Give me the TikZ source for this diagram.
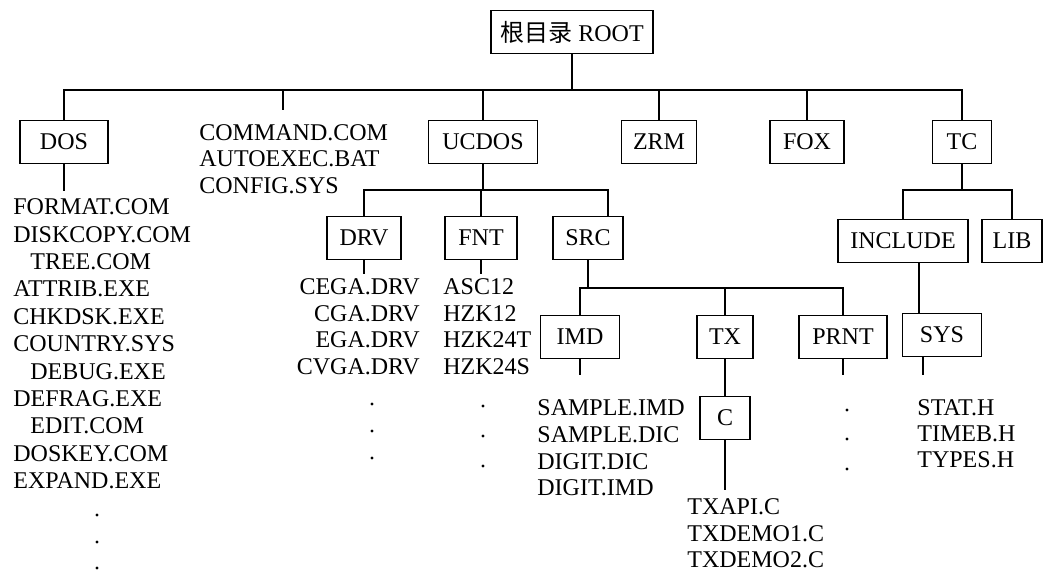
\documentclass[tikz,border=0pt]{standalone}
\usepackage{fontspec}
\setmainfont{Liberation Serif}
\newfontfamily\cjk{Noto Sans CJK SC}
\usetikzlibrary{positioning, calc}
\newcommand{\fsz}{\fontsize{12}{13.3}\selectfont}

\begin{document}
\begin{tikzpicture}[
        x=0.5pt, y=-0.5pt,
        dnode/.style={draw, line width=0.7pt, minimum height=21.5pt, inner xsep=3pt, font=\fsz},
        fname/.style={inner sep=0pt, font=\fsz},
        link/.style={line width=0.7pt}
    ]
    \useasboundingbox (0,0) rectangle (1044,571);

    % --- root and first level ---
    \node[dnode, minimum width=81pt] (root) at (572,32) {{\cjk 根目录} ROOT};
    \node[dnode, minimum width=44pt] (dos) at (64,142) {DOS};
    \node[dnode, minimum width=54.5pt] (ucdos) at (483,142) {UCDOS};
    \node[dnode, minimum width=37.5pt] (zrm) at (659,142) {ZRM};
    \node[dnode, minimum width=37pt] (fox) at (807,142) {FOX};
    \node[dnode, minimum width=29.5pt] (tc) at (962,142) {TC};
    \node[fname, align=left, anchor=north west] (sysf) at (199,124) {COMMAND.COM\\AUTOEXEC.BAT\\CONFIG.SYS};

    \coordinate (bus1) at (0,90);
    \coordinate (cmdend) at (283,110);
    \draw[link] (root.south) -- (root.south |- bus1);
    \draw[link] (dos.north) -- (dos.north |- bus1) -- (tc.north |- bus1) -- (tc.north);
    \foreach \d in {ucdos, zrm, fox}
        \draw[link] (\d.north) -- (\d.north |- bus1);
    \draw[link] (cmdend) -- (cmdend |- bus1);

    % --- DOS files ---
    \coordinate (dosend) at (64,191);
    \draw[link] (dos.south) -- (dosend);
    \foreach \x/\f [count=\i] in {13/FORMAT.COM, 13/DISKCOPY.COM, 30/TREE.COM, 13/ATTRIB.EXE,
            13/CHKDSK.EXE, 13/COUNTRY.SYS, 30/DEBUG.EXE, 13/DEFRAG.EXE, 30/EDIT.COM,
            13/DOSKEY.COM, 13/EXPAND.EXE}
        \node[fname, anchor=west] (dosf\i) at (\x, {207+27.4*(\i-1)}) {\f};
    \foreach \y in {515, 542, 568}
        \fill (97,\y) circle[radius=0.8pt];

    % --- UCDOS ---
    \node[dnode, minimum width=37pt] (drv) at (364,238) {DRV};
    \node[dnode, minimum width=36pt] (fnt) at (481,238) {FNT};
    \node[dnode, minimum width=35pt] (src) at (588,238) {SRC};
    \coordinate (bus2) at (0,190);
    \coordinate (stub2) at (0,274);
    \coordinate (srcin) at ([xshift=10pt]src.north);
    \draw[link] (ucdos.south) -- (ucdos.south |- bus2);
    \draw[link] (drv.north) -- (drv.north |- bus2) -- (srcin |- bus2) -- (srcin);
    \draw[link] (fnt.north) -- (fnt.north |- bus2);
    \draw[link] (drv.south) -- (drv.south |- stub2);
    \draw[link] (fnt.south) -- (fnt.south |- stub2);

    \foreach \f [count=\i] in {CEGA.DRV, CGA.DRV, EGA.DRV, CVGA.DRV}
        \node[fname, anchor=east] (drvf\i) at (420, {287+26.5*(\i-1)}) {\f};
    \foreach \f [count=\i] in {ASC12, HZK12, HZK24T, HZK24S}
        \node[fname, anchor=west] (fntf\i) at (443, {287+26.5*(\i-1)}) {\f};
    \foreach \y in {404, 431, 458}
        \fill (372,\y) circle[radius=0.8pt];
    \foreach \y in {406, 436, 466}
        \fill (483,\y) circle[radius=0.8pt];

    % --- SRC ---
    \node[dnode, minimum width=39.5pt] (imd) at (580,337) {IMD};
    \node[dnode, minimum width=28pt] (tx) at (725,337) {TX};
    \node[dnode, minimum width=44pt] (prnt) at (843,337) {PRNT};
    \node[dnode, minimum width=25pt] (c) at (725,418) {C};
    \coordinate (bus3) at (0,288);
    \coordinate (stub3) at (0,375);
    \coordinate (cend) at (0,490);
    \draw[link] (src.south) -- (src.south |- bus3);
    \draw[link] (imd.north) -- (imd.north |- bus3) -- (prnt.north |- bus3) -- (prnt.north);
    \draw[link] (tx.north) -- (tx.north |- bus3);
    \draw[link] (tx.south) -- (c.north);
    \draw[link] (imd.south) -- (imd.south |- stub3);
    \draw[link] (prnt.south) -- (prnt.south |- stub3);
    \draw[link] (c.south) -- (c.south |- cend);

    \foreach \f [count=\i] in {SAMPLE.IMD, SAMPLE.DIC, DIGIT.DIC, DIGIT.IMD}
        \node[fname, anchor=west] (imdf\i) at (537, {408+26.7*(\i-1)}) {\f};
    \foreach \f [count=\i] in {TXAPI.C, TXDEMO1.C, TXDEMO2.C}
        \node[fname, anchor=west] (cf\i) at (687, {507+26.5*(\i-1)}) {\f};
    \foreach \y in {410, 439, 469}
        \fill (847,\y) circle[radius=0.8pt];

    % --- TC ---
    \node[dnode, minimum width=65pt] (include) at (903,241) {INCLUDE};
    \node[dnode, minimum width=30pt] (lib) at (1012,241) {LIB};
    \node[dnode, minimum width=39.5pt] (sys) at (942,335) {SYS};
    \coordinate (incout) at ([xshift=8pt]include.south);
    \coordinate (sysout) at ([xshift=-9.5pt]sys.south);
    \draw[link] (tc.south) -- (tc.south |- bus2);
    \draw[link] (include.north) -- (include.north |- bus2) -- (lib.north |- bus2) -- (lib.north);
    \draw[link] (incout) -- (incout |- sys.north);
    \draw[link] (sysout) -- (sysout |- stub3);

    \foreach \f [count=\i] in {STAT.H, TIMEB.H, TYPES.H}
        \node[fname, anchor=west] (sysf\i) at (917, {408+26*(\i-1)}) {\f};
\end{tikzpicture}
\end{document}
